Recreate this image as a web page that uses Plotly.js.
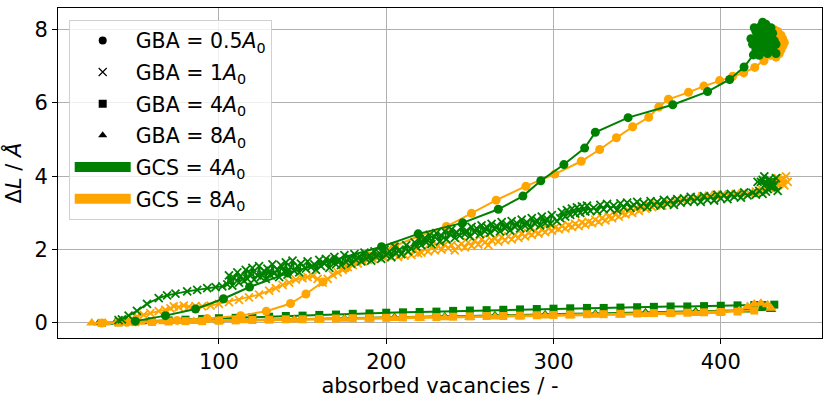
<!DOCTYPE html>
<html><head><meta charset="utf-8">
<script src="https://cdn.plot.ly/plotly-3.0.1.min.js"></script>
<style>html,body{margin:0;padding:0;background:#fff}#chart{width:830px;height:402px}</style>
</head><body><div id="chart"></div>
<script>
// GBA = 0.5A0 (circles)
const gcX = [50,68,86,102.7,118.3,141.2,169,197.2,219.1,245.7,267,281.7,292.4,306.2,318.6,325,344.6,371.3,392.1,405.3,413.9,419.5,
  422,425,428,424,430,426,420,427,431,423,429,425,421,432,426,424,428,430,422,427,425,419,431,423,429,426,428,424,433,421,418,433,420,430];
const gcY = [0.05,0.2,0.38,0.66,0.98,1.36,1.72,2.08,2.43,2.73,3.1,3.46,3.88,4.32,4.77,5.2,5.6,5.95,6.31,6.64,6.98,7.31,
  7.5,7.9,7.6,8.1,7.8,7.4,7.7,8.15,7.5,7.3,8.0,7.65,7.95,7.7,7.85,7.55,7.35,8.05,7.85,7.7,8.2,7.6,7.9,8.0,7.45,7.6,7.95,7.75,7.6,7.45,7.75,7.35,8.05,7.65];
const ocX = [30,45,60,75,93,113,128.3,142.8,152,162.2,176,190,205,220,236,251,265.7,283.5,300.8,316.6,327.6,337.6,347.3,356.9,362.9,368.7,380.7,389.9,399.3,407.1,413.7,420.3,425.8,429.8,
  432,435,437,434,430,436,433,428,431,435,427,438,432,429,434,437,436];
const ocY = [0.0,0.02,0.04,0.07,0.12,0.2,0.32,0.53,0.79,1.12,1.5,1.82,2.1,2.38,2.63,2.99,3.35,3.73,4.06,4.41,4.73,5.05,5.35,5.61,5.89,6.1,6.29,6.46,6.61,6.73,6.82,6.97,7.15,7.3,
  7.4,7.6,7.75,7.95,7.5,7.45,7.25,7.6,7.8,7.35,7.9,7.65,8.0,7.7,7.55,7.55,7.85];
// GBA = 1A0 (x)
const gxX = [40,42,46,51,57,64,69,74,81,87,93,98,102,
  105,106,107,108,109,111,112,113,115,116,117,119,120,121,123,124,125,127,128,129,131,132,133,135,136,137,139,140,141,143,144,145,147,148,149,
  152,153,155,157,158,160,161,163,164,166,167,169,170,172,173,175,176,178,179,181,182,184,185,187,188,190,191,193,194,196,197,199,200,202,203,205,206,208,209,
  212,213,215,217,218,220,221,223,224,226,227,229,230,232,233,235,236,238,239,241,242,244,245,247,248,250,251,253,254,256,257,259,260,262,263,265,266,268,269,271,272,274,275,277,278,280,281,283,284,286,287,289,290,292,293,295,296,298,299,
  302,304,305,307,308,310,311,313,314,316,317,319,320,322,324,326,328,330,332,334,336,338,340,342,344,346,348,350,352,354,356,358,360,362,364,366,368,370,372,374,376,378,380,382,384,386,388,390,392,394,396,398,400,402,404,406,408,410,412,414,416,
  419,421,423,425,427,428,430,431,429,432,426,424,433,430,427,422,434,425,431];
const gxY = [0.08,0.1,0.2,0.33,0.52,0.68,0.75,0.8,0.86,0.9,0.95,0.98,1.0,
  1.05,1.3,1.15,1.02,1.22,1.38,1.1,1.28,1.15,1.45,1.2,1.35,1.5,1.18,1.3,1.55,1.25,1.42,1.2,1.48,1.3,1.6,1.35,1.45,1.25,1.58,1.4,1.65,1.32,1.52,1.7,1.42,1.55,1.38,1.62,
  1.48,1.68,1.52,1.6,1.45,1.72,1.55,1.62,1.75,1.5,1.68,1.8,1.6,1.72,1.58,1.85,1.66,1.78,1.62,1.88,1.72,1.82,1.68,1.92,1.75,1.85,1.7,1.95,1.8,1.9,1.75,2.0,1.85,1.95,1.8,2.08,1.9,2.0,1.88,2.12,1.95,
  2.02,2.2,2.08,2.28,2.12,2.32,2.2,2.4,2.15,2.35,2.45,2.22,2.38,2.5,2.28,2.42,2.55,2.32,2.48,2.38,2.6,2.42,2.52,2.36,2.62,2.48,2.58,2.42,2.66,2.5,2.62,2.46,2.7,2.55,2.65,2.5,2.75,2.58,2.68,2.52,2.78,2.62,2.72,2.58,2.82,2.65,2.75,2.6,2.86,2.7,2.8,2.66,2.9,2.72,2.84,2.7,2.94,2.78,
  2.86,3.02,2.9,3.08,2.95,3.12,2.98,3.15,3.0,3.18,3.04,3.2,3.06,3.14,3.05,3.22,3.1,3.25,3.12,3.2,3.08,3.26,3.15,3.28,3.14,3.22,3.3,3.18,3.26,3.16,3.32,3.22,3.3,3.2,3.36,3.25,3.34,3.22,3.38,3.28,3.4,3.3,3.44,3.32,3.4,3.3,3.46,3.36,3.44,3.34,3.5,3.4,3.48,3.38,3.52,3.44,3.5,3.42,3.56,3.48,3.55,3.5,3.6,3.52,3.58,
  3.65,3.8,3.7,3.92,3.75,4.0,3.85,3.95,3.7,3.8,3.85,3.6,3.9,3.75,4.02,3.62,3.78,4.05,3.68];
const oxX = [45,48,51,55,59,64,68,71,73,76,79,82,86,90,95,100,106,112,118,124,130,134,138,142,146,150,153,156,159,162,165,168,171,174,177,180,183,186,189,192,195,198,
  201,203,205,207,209,211,213,215,217,219,221,223,225,227,229,231,233,235,237,239,241,243,245,247,249,251,253,255,257,259,261,263,265,267,269,271,273,275,277,279,281,283,285,287,289,291,293,295,297,299,
  301,303,305,307,309,311,313,315,317,319,321,323,325,327,329,331,333,335,337,339,341,343,345,347,349,351,353,355,357,359,
  361,365,369,373,377,381,385,389,393,397,401,405,409,413,417,421,425,429,433,437,440,436,432,438,434,439];
const oxY = [0.05,0.12,0.18,0.22,0.27,0.32,0.36,0.4,0.45,0.43,0.47,0.44,0.46,0.45,0.47,0.52,0.57,0.63,0.7,0.77,0.88,0.95,1.04,1.1,1.18,1.22,1.25,1.28,1.2,1.1,1.2,1.32,1.38,1.45,1.52,1.58,1.62,1.67,1.72,1.75,1.78,1.8,
  1.84,1.78,1.88,1.8,1.9,1.84,1.95,1.86,1.98,1.9,1.92,2.02,1.95,2.06,1.98,2.1,2.0,2.14,2.04,2.12,1.98,2.08,2.16,2.06,2.2,2.1,2.25,2.14,2.28,2.2,2.12,2.26,2.3,2.22,2.34,2.26,2.36,2.28,2.4,2.32,2.44,2.36,2.46,2.4,2.5,2.44,2.55,2.48,2.58,2.52,2.6,2.56,
  2.64,2.58,2.66,2.62,2.7,2.64,2.74,2.68,2.76,2.72,2.82,2.76,2.86,2.8,2.9,2.86,2.96,2.9,3.0,2.96,3.06,3.0,3.12,3.06,3.18,3.12,3.22,3.16,3.25,3.2,
  3.28,3.32,3.35,3.38,3.42,3.45,3.47,3.49,3.5,3.5,3.52,3.53,3.54,3.58,3.62,3.68,3.72,3.8,3.85,3.9,3.82,3.75,3.95,4.0,3.72,3.88];
// GBA = 4A0 (squares)
const gsX = [30,40,50,60,70,80,90,100,110,120,130,140,150,160,170,180,190,200,210,220,230,240,250,260,270,280,290,300,310,320,330,340,350,360,370,380,390,400,410,420,425,432];
const gsY = [0.0,0.02,0.04,0.05,0.07,0.09,0.11,0.13,0.14,0.16,0.17,0.19,0.2,0.22,0.23,0.25,0.26,0.28,0.29,0.3,0.31,0.33,0.34,0.35,0.36,0.37,0.38,0.39,0.4,0.41,0.41,0.42,0.43,0.44,0.45,0.45,0.46,0.47,0.48,0.49,0.49,0.5];
const osX = [30,40,50,60,70,80,90,100,110,120,130,140,150,160,170,180,190,200,210,220,230,240,250,260,270,280,290,300,310,320,330,340,350,360,370,380,390,400,410,420];
const osY = [0.0,0.01,0.02,0.03,0.04,0.05,0.05,0.06,0.07,0.08,0.09,0.1,0.1,0.11,0.12,0.13,0.13,0.14,0.15,0.16,0.16,0.17,0.18,0.19,0.19,0.2,0.21,0.22,0.23,0.24,0.24,0.25,0.26,0.27,0.27,0.28,0.29,0.3,0.31,0.34];
// GBA = 8A0 (triangles)
const gtX = [28,38,48,58,68,78,88,100,115,130,145,160,175,190,205,220,235,250,265,280,295,310,325,340,355,370,385,400,415,430];
const gtY = [0.0,0.01,0.02,0.03,0.04,0.05,0.06,0.07,0.08,0.1,0.11,0.12,0.13,0.14,0.16,0.17,0.18,0.19,0.21,0.22,0.24,0.25,0.26,0.28,0.29,0.3,0.32,0.33,0.35,0.36];
const otX = [24,32,40,46,53,60,67,75,85,100,115,130,145,160,175,190,205,220,235,250,265,280,295,310,325,340,355,370,385,400,411,416,420,424,428,430];
const otY = [0.0,0.0,0.01,0.02,0.02,0.03,0.03,0.04,0.04,0.05,0.06,0.07,0.08,0.09,0.1,0.11,0.12,0.13,0.14,0.15,0.16,0.17,0.19,0.2,0.21,0.22,0.23,0.25,0.26,0.28,0.33,0.45,0.52,0.54,0.5,0.4];

const GREEN = 'green', ORANGE = 'orange';
const legendLabels = ['GBA = 0.5<i>A</i><sub>0</sub>','GBA = 1<i>A</i><sub>0</sub>','GBA = 4<i>A</i><sub>0</sub>','GBA = 8<i>A</i><sub>0</sub>','GCS = 4<i>A</i><sub>0</sub>','GCS = 8<i>A</i><sub>0</sub>'];

function series(x, y, color, symbol, size, lw) {
  const m = {color: color, symbol: symbol, size: size};
  if (symbol.indexOf('x-thin') === 0) m.line = {color: color, width: 1.8};
  return {x: x, y: y, mode: 'lines+markers', showlegend: false, hoverinfo: 'skip',
    line: {color: color, width: lw}, marker: m};
}
const traces = [
  series(gsX, gsY, GREEN, 'square', 8, 2),
  series(gtX, gtY, GREEN, 'triangle-up', 9, 2),
  series(osX, osY, ORANGE, 'square', 8, 2),
  series(otX, otY, ORANGE, 'triangle-up', 10, 2),
  series(oxX, oxY, ORANGE, 'x-thin', 8, 1.8),
  series(ocX, ocY, ORANGE, 'circle', 9, 2),
  series(gxX, gxY, GREEN, 'x-thin', 8, 1.8),
  series(gcX, gcY, GREEN, 'circle', 9, 2)
];
const legSyms = ['circle','x-thin','square','triangle-up'];
legSyms.forEach((s, i) => {
  const m = {color: 'black', symbol: s, size: 8};
  if (s === 'x-thin') m.line = {color: 'black', width: 1.2};
  traces.push({x: [null], y: [null], mode: 'markers', name: legendLabels[i], marker: m, legendgroup: 'g' + i});
});
[GREEN, ORANGE].forEach((c, i) => {
  traces.push({x: [null], y: [null], mode: 'lines', name: legendLabels[4 + i], line: {color: c, width: 15}, legendgroup: 'h' + i});
});

const FONT = 'DejaVu Sans, sans-serif';
const layout = {
  width: 830, height: 402,
  margin: {l: 58, r: 8, t: 8, b: 64, pad: 0},
  paper_bgcolor: 'white', plot_bgcolor: 'white',
  font: {family: FONT, size: 21, color: 'black'},
  xaxis: {range: [3.8, 460.5], dtick: 100, tick0: 0, showgrid: true, gridcolor: '#b0b0b0', gridwidth: 1,
    zeroline: false, showline: true, mirror: true, linecolor: 'black', linewidth: 1,
    ticks: 'outside', ticklen: 5, tickcolor: 'black', tickfont: {family: FONT, size: 21},
    title: {text: 'absorbed vacancies / -', font: {family: FONT, size: 21}, standoff: 2}},
  yaxis: {range: [-0.41, 8.59], dtick: 2, tick0: 0, showgrid: true, gridcolor: '#b0b0b0', gridwidth: 1,
    zeroline: false, showline: true, mirror: true, linecolor: 'black', linewidth: 1,
    ticks: 'outside', ticklen: 5, tickcolor: 'black', tickfont: {family: FONT, size: 21},
    title: {text: 'Δ<i>L</i> / <i>Å</i>', font: {family: FONT, size: 21}, standoff: 8}},
  legend: {x: 0.014, y: 0.965, xanchor: 'left', yanchor: 'top', bgcolor: 'rgba(255,255,255,0.8)',
    bordercolor: '#d0d0d0', borderwidth: 1, font: {family: FONT, size: 20.5, color: 'black'},
    itemwidth: 56, traceorder: 'grouped', tracegroupgap: 2, itemsizing: 'trace'},
  showlegend: true
};
Plotly.newPlot('chart', traces, layout, {displayModeBar: false, staticPlot: true});
</script></body></html>
